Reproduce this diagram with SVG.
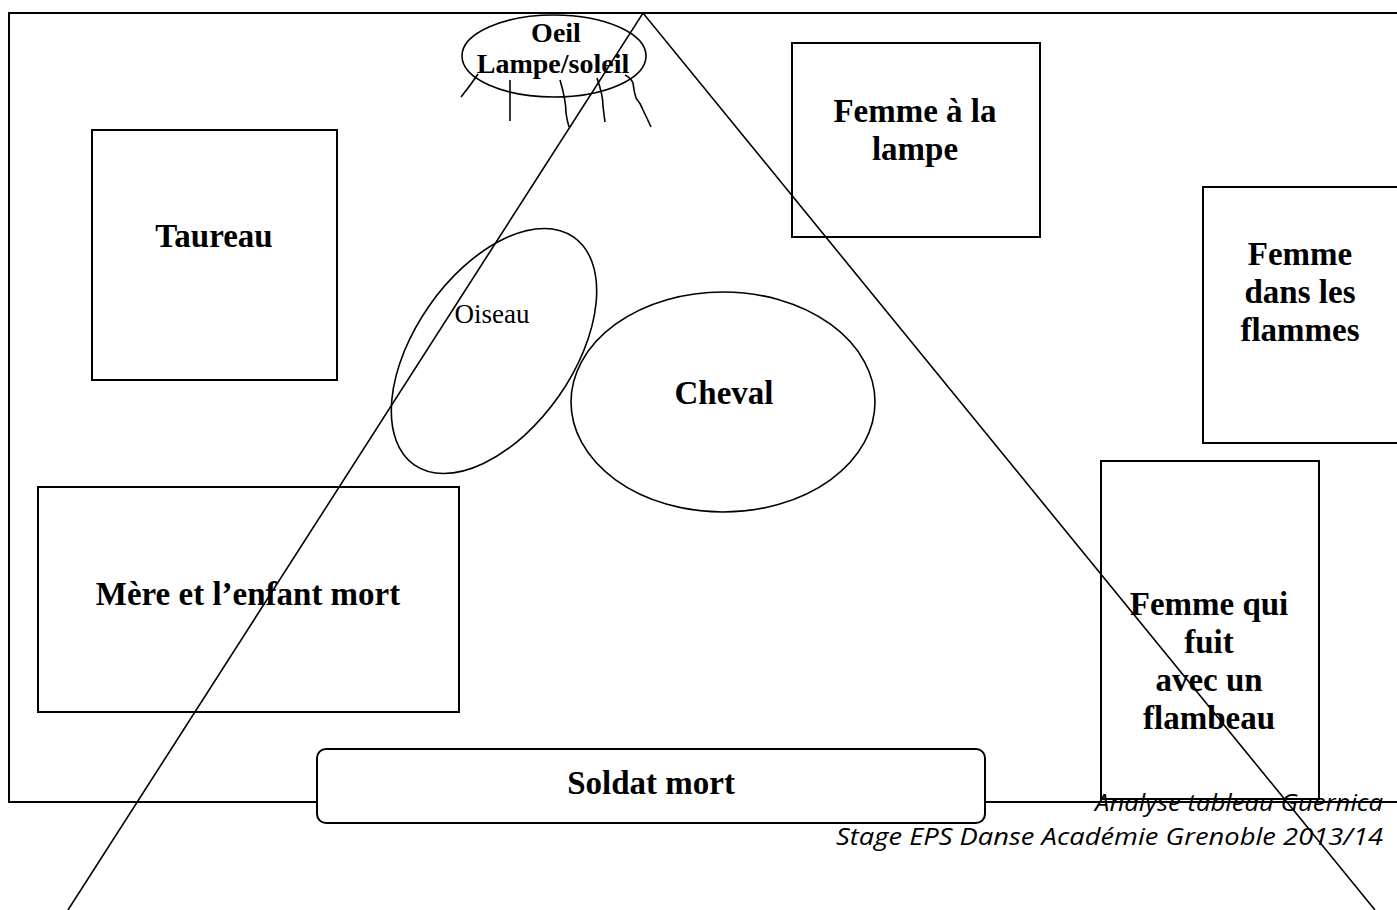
<svg xmlns="http://www.w3.org/2000/svg" width="1397" height="910" viewBox="0 0 1397 910">
<style>
.box{fill:none;stroke:#000;stroke-width:2}
.wbox{fill:#fff;stroke:#000;stroke-width:2}
.ln{fill:none;stroke:#000;stroke-width:1.6}
.t{font-family:"Liberation Serif",serif;font-weight:bold;font-size:33px;fill:#000;text-anchor:middle}
.s{font-family:"Liberation Serif",serif;font-size:27px;fill:#000;text-anchor:middle}
.f{font-family:"Open Sans","Liberation Sans",sans-serif;font-style:italic;font-size:24px;fill:#000;text-anchor:end}
</style>
<rect width="1397" height="910" fill="#fff"/>
<g id="footer">
<text class="f" x="1383" y="811" textLength="288" lengthAdjust="spacingAndGlyphs">Analyse tableau Guernica</text>
<text class="f" x="1383" y="845" textLength="547" lengthAdjust="spacingAndGlyphs">Stage EPS Danse Académie Grenoble 2013/14</text>
</g>
<g id="frame">
<path class="box" d="M1397,13 H9 V802 H1397"/>
</g>
<g id="taureau">
<rect class="box" x="92" y="130" width="245" height="250"/>
<text class="t" x="214" y="247">Taureau</text>
</g>
<g id="femme-lampe">
<rect class="box" x="792" y="43" width="248" height="194"/>
<text class="t" x="915" y="122">Femme à la</text>
<text class="t" x="915" y="160">lampe</text>
</g>
<g id="femme-flammes">
<rect class="box" x="1203" y="187" width="200" height="256"/>
<text class="t" x="1300" y="265">Femme</text>
<text class="t" x="1300" y="303">dans les</text>
<text class="t" x="1300" y="341">flammes</text>
</g>
<g id="mere">
<rect class="box" x="38" y="487" width="421" height="225"/>
<text class="t" x="248" y="605">Mère et l’enfant mort</text>
</g>
<g id="femme-fuit">
<rect class="box" x="1101" y="461" width="218" height="338"/>
<text class="t" x="1209" y="615">Femme qui</text>
<text class="t" x="1209" y="653">fuit</text>
<text class="t" x="1209" y="691">avec un</text>
<text class="t" x="1209" y="729">flambeau</text>
</g>
<g id="soldat">
<rect class="wbox" x="317" y="749" width="668" height="74" rx="9"/>
<text class="t" x="651" y="794">Soldat mort</text>
</g>
<g id="oiseau">
<ellipse class="ln" cx="494" cy="351" rx="139" ry="79" transform="rotate(-55 494 351)"/>
<text class="s" x="492" y="323">Oiseau</text>
</g>
<g id="cheval">
<ellipse class="ln" cx="723" cy="402" rx="152" ry="110"/>
<text class="t" x="724" y="404">Cheval</text>
</g>
<g id="oeil">
<ellipse class="ln" cx="554" cy="56" rx="92" ry="41"/>
<text class="t" x="556" y="42" style="font-size:28px">Oeil</text>
<text class="t" x="553" y="73" style="font-size:28px">Lampe/soleil</text>
<path class="ln" d="M461,97 Q470,86 478,74"/>
<path class="ln" d="M510,80 V121"/>
<path class="ln" d="M560,80 Q566,100 566,113 Q567,120 569,127"/>
<path class="ln" d="M597,78 Q603,95 603,106 Q604,115 605,122"/>
<path class="ln" d="M625,75 Q631,78 633,83 Q634,92 636,98 Q641,104 643,110 Q647,118 651,127"/>
</g>
<g id="connectors">
<path class="ln" d="M68,910 L643,13 L1375,910"/>
</g>
</svg>
